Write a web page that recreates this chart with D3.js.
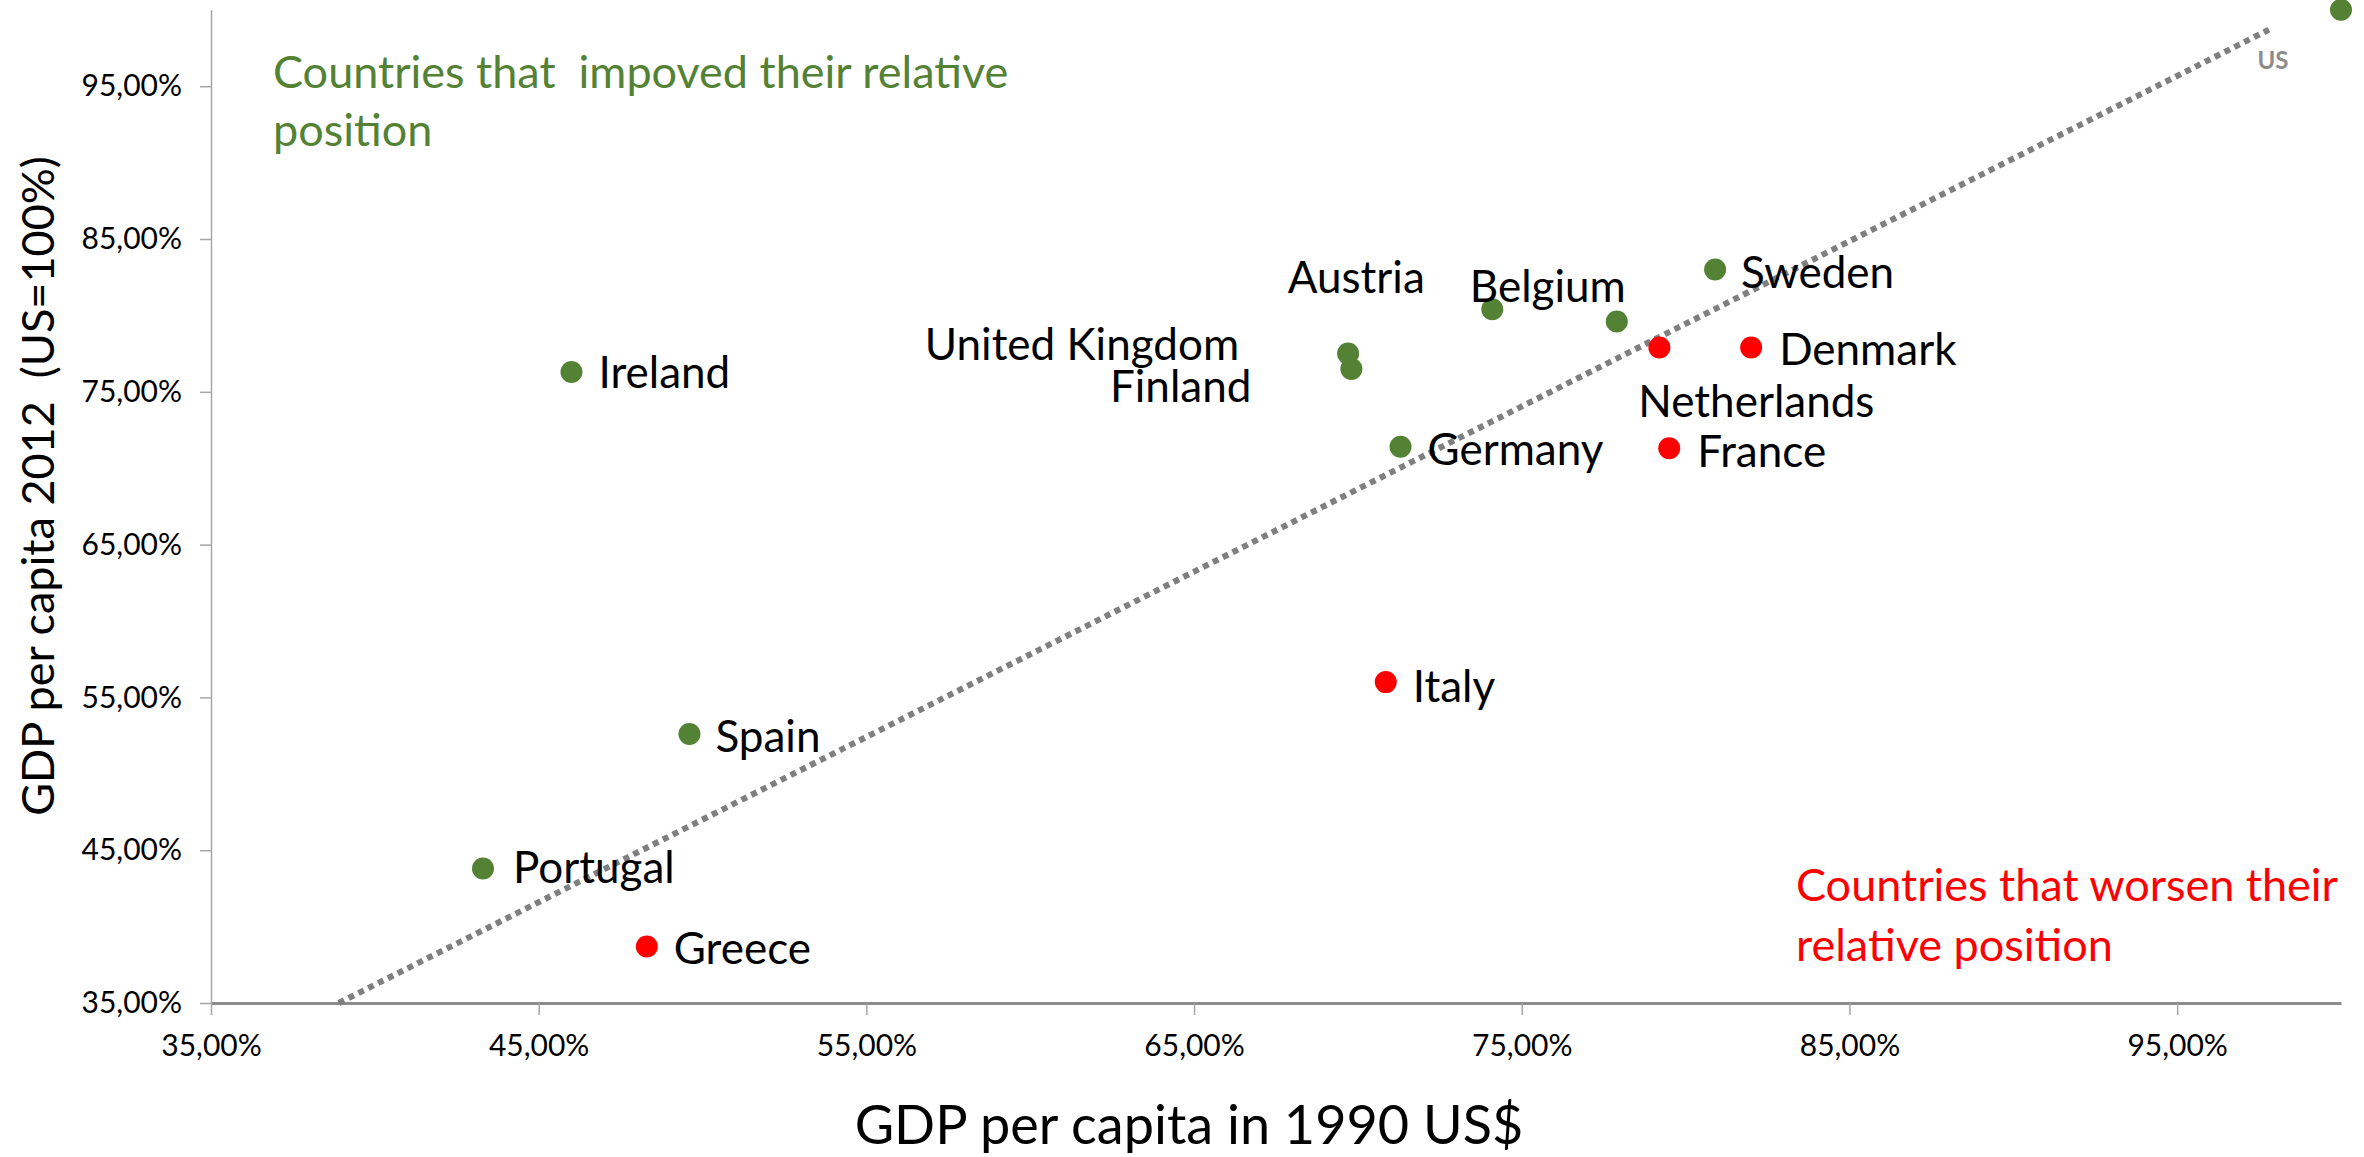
<!DOCTYPE html>
<html>
<head>
<meta charset="utf-8">
<script src="https://cdn.jsdelivr.net/npm/d3@7"></script>
<style>
  html, body { margin: 0; padding: 0; background: #ffffff; }
  svg { display: block; }
  text { font-family: Lato, "Open Sans", sans-serif; white-space: pre; }
</style>
</head>
<body>
<svg id="chart" width="2364" height="1157"></svg>
<script>
// ---- data ----
const countries = ["US", "Ireland", "Spain", "Portugal", "Greece", "Italy", "Germany",
  "United Kingdom", "Finland", "Austria", "Belgium", "Sweden", "Netherlands", "Denmark", "France"];
const gdp1990 = [100, 46.0, 49.6, 43.3, 48.3, 70.85, 71.3, 69.7, 69.8, 74.1, 77.9, 80.9, 79.2, 82.0, 79.5];
const gdp2012 = [100, 76.3, 52.6, 43.8, 38.7, 56.0, 71.4, 77.5, 76.5, 80.4, 79.6, 83.0, 77.9, 77.9, 71.3];
const improved = [true, true, true, true, false, false, true, true, true, true, true, true, false, false, false];
const trendX = [38.9, 97.8];
const trendY = [35.0, 98.7];
const tickValues = [35, 45, 55, 65, 75, 85, 95];
const xTitle = "GDP per capita in 1990 US$";
const yTitle = "GDP per capita 2012  (US=100%)";
const noteGood = ["Countries that  impoved their relative", "position"];
const noteBad = ["Countries that worsen their", "relative position"];

// ---- label layout (pixel offsets from each dot) ----
const labelLayout = {
  "US": { dx: -68, dy: 51, anchor: "middle" },
  "Ireland": { dx: 27, dy: 1, anchor: "start" },
  "Spain": { dx: 26, dy: 3, anchor: "start" },
  "Portugal": { dx: 30, dy: -1, anchor: "start" },
  "Greece": { dx: 27, dy: 2, anchor: "start" },
  "Italy": { dx: 27, dy: 4, anchor: "start" },
  "Germany": { dx: 27, dy: 3, anchor: "start" },
  "United Kingdom": { dx: -109, dy: -9, anchor: "end" },
  "Finland": { dx: -100, dy: 18, anchor: "end" },
  "Austria": { dx: -136, dy: -32, anchor: "middle" },
  "Belgium": { dx: -69, dy: -35, anchor: "middle" },
  "Sweden": { dx: 26, dy: 3, anchor: "start" },
  "Netherlands": { dx: 97, dy: 54, anchor: "middle" },
  "Denmark": { dx: 28, dy: 2, anchor: "start" },
  "France": { dx: 28, dy: 3, anchor: "start" }
};

const GREEN = "#548235", RED = "#ff0000";
const svg = d3.select("#chart");
const x = d3.scaleLinear().domain([35, 100]).range([211, 2341]);
const y = d3.scaleLinear().domain([35, 100]).range([1003, 9.8]);
const fmt = d => d.toFixed(2).replace(".", ",") + "%";

// axes
const gx = svg.append("g").attr("transform", `translate(0,${y(35)})`)
  .call(d3.axisBottom(x).tickValues(tickValues).tickFormat(fmt).tickSize(12).tickPadding(20).tickSizeOuter(0));
gx.select(".domain").attr("stroke", "#8c8c8c").attr("stroke-width", 3);
gx.selectAll(".tick line").attr("stroke", "#a6a6a6").attr("stroke-width", 1.5);
gx.selectAll(".tick text").attr("font-size", 30).attr("fill", "#000").attr("font-family", "Lato");

const gy = svg.append("g").attr("transform", `translate(${x(35)},0)`)
  .call(d3.axisLeft(y).tickValues(tickValues).tickFormat(fmt).tickSize(11).tickPadding(18).tickSizeOuter(0));
gy.select(".domain").attr("stroke", "#a6a6a6").attr("stroke-width", 1.5);
gy.selectAll(".tick line").attr("stroke", "#a6a6a6").attr("stroke-width", 1.5);
gy.selectAll(".tick text").attr("font-size", 30).attr("fill", "#000").attr("font-family", "Lato");

// trend line
svg.append("line")
  .attr("x1", x(trendX[0])).attr("y1", y(trendY[0]))
  .attr("x2", x(trendX[1])).attr("y2", y(trendY[1]))
  .attr("stroke", "#7f7f7f").attr("stroke-width", 6).attr("stroke-dasharray", "6,5");

// points
const pts = countries.map((c, i) => ({ name: c, x: gdp1990[i], y: gdp2012[i], good: improved[i] }));
svg.append("g").selectAll("circle").data(pts).join("circle")
  .attr("cx", d => x(d.x)).attr("cy", d => y(d.y)).attr("r", 11)
  .attr("fill", d => d.good ? GREEN : RED);

// labels
svg.append("g").selectAll("text").data(pts).join("text")
  .attr("x", d => x(d.x) + labelLayout[d.name].dx)
  .attr("y", d => y(d.y) + labelLayout[d.name].dy)
  .attr("dy", "0.35em")
  .attr("text-anchor", d => labelLayout[d.name].anchor)
  .attr("font-size", d => d.name === "US" ? 24 : 44)
  .attr("font-weight", d => d.name === "US" ? "bold" : "normal")
  .attr("fill", d => d.name === "US" ? "#8c8c8c" : "#000")
  .text(d => d.name);

// annotations
svg.append("g").selectAll("text").data(noteGood).join("text")
  .attr("x", 273).attr("y", (d, i) => 72 + i * 58).attr("dy", "0.35em")
  .attr("font-size", 45).attr("fill", GREEN).text(d => d);
svg.append("g").selectAll("text").data(noteBad).join("text")
  .attr("x", 1796).attr("y", (d, i) => 885 + i * 60).attr("dy", "0.35em")
  .attr("font-size", 45).attr("fill", RED).text(d => d);

// axis titles
svg.append("text").attr("x", 1189).attr("y", 1144)
  .attr("text-anchor", "middle").attr("font-size", 54).attr("fill", "#000").text(xTitle);
svg.append("text").attr("transform", "translate(38,486) rotate(-90)").attr("dy", "0.35em")
  .attr("text-anchor", "middle").attr("font-size", 45).attr("fill", "#000").text(yTitle);
</script>
</body>
</html>
